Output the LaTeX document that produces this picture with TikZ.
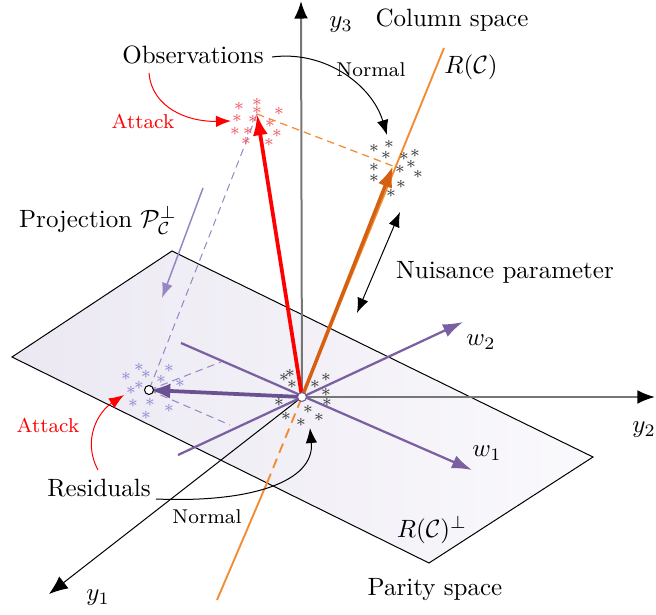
\documentclass[tikz,border=0pt]{standalone}
\usetikzlibrary{arrows.meta}
\definecolor{vio}{RGB}{122,96,160}
\definecolor{viod}{RGB}{106,82,146}
\definecolor{viol}{RGB}{152,134,196}
\definecolor{resc}{RGB}{135,135,212}
\definecolor{orl}{RGB}{242,140,50}
\definecolor{ord}{RGB}{214,96,18}
\definecolor{axg}{RGB}{118,118,118}
\definecolor{plA}{RGB}{235,232,242}
\definecolor{plB}{RGB}{250,249,252}
\definecolor{redst}{RGB}{240,80,90}
\definecolor{blkst}{RGB}{50,50,50}
\begin{document}
\begin{tikzpicture}[x=0.4pt,y=-0.4pt,
  lbl/.style={inner sep=0pt},
  small/.style={inner sep=0pt,font=\footnotesize},
  rstar/.style={inner sep=0pt,font=\scriptsize,text=redst},
  bstar/.style={inner sep=0pt,font=\scriptsize,text=blkst},
  pstar/.style={inner sep=0pt,font=\scriptsize,text=resc},
  thinax/.style={line width=0.4pt,-{Latex[length=7.5pt,width=6pt]}},
  grayax/.style={draw=axg,line width=0.8pt,-{Latex[length=7pt,width=5.5pt,color=black,fill=black]}},
  wline/.style={draw=vio,line width=0.9pt,-{Latex[length=8pt,width=5.5pt]}},
  pdash/.style={draw=viol,line width=0.4pt,dash pattern=on 3pt off 2pt},
  bigarrow/.style={line width=1.5pt,-{Latex[length=8.5pt,width=6pt]}},
  curvearrow/.style={line width=0.4pt,-{Latex[length=6pt,width=4.6pt]}},
  dot/.style={circle,draw,fill=white,inner sep=0pt,minimum size=3.6pt,line width=0.4pt}
]
\useasboundingbox (0,0) rectangle (656,615);

% key points
\coordinate (O) at (302,397);
\coordinate (Y3) at (301,1);
\coordinate (Y2) at (655,397);
\coordinate (Y1) at (49,594);
\coordinate (RB) at (217,600);
\coordinate (RT) at (444,48);
\coordinate (RX) at (267,483);
\coordinate (RED) at (257,114);
\coordinate (ORT) at (393,166);
\coordinate (RES) at (149,390);
\coordinate (W1a) at (181,343);
\coordinate (W1) at (472,470);
\coordinate (W2a) at (178,455);
\coordinate (W2) at (463,322);
\coordinate (P1) at (221,362);
\coordinate (P2) at (230,425);
\coordinate (PL) at (12,357);
\coordinate (PT) at (172,251);
\coordinate (PR) at (593,457);
\coordinate (PB) at (429,563);

% plane
\shade[left color=plA,right color=plB] (PL) -- (PT) -- (PR) -- (PB) -- cycle;
\draw[line width=0.4pt] (PL) -- (PT) -- (PR) -- (PB) -- cycle;

% y1 axis
\draw[thinax] (O) -- (Y1);

% column space line
\draw[orl,line width=0.75pt] (RB) -- (RX);
\draw[orl,line width=0.75pt,dash pattern=on 4pt off 2.5pt] (RX) -- (O);
\draw[orl,line width=0.75pt] (O) -- (RT);

% y3, y2 axes
\draw[grayax] (O) -- (Y3);
\draw[grayax] (O) -- (Y2);

% w axes
\draw[wline] (W1a) -- (W1);
\draw[wline] (W2a) -- (W2);

% projection dashed lines
\draw[pdash] (RED) -- (RES);
\draw[pdash] (RES) -- (P1);
\draw[pdash] (RES) -- (P2);

% main vectors
\draw[bigarrow,color=viod] (O) -- (RES);
\draw[bigarrow,color=red] (O) -- (RED);
\draw[bigarrow,color=ord,line width=1.4pt] (O) -- (ORT);
\draw[orl,line width=0.5pt,dash pattern=on 3pt off 2pt] (RED) -- (ORT);

% star clusters
\foreach \p [count=\i] in {(239,106),(257,102),(257,110),(279,111),(237,118),(253,119),(270,123),(235,131),(248,131),(277,133),(246,141),(269,142)}
  \node[rstar] (rs\i) at \p {$\ast$};
\foreach \p [count=\i] in {(374,148),(389,144),(386,155),(404,156),(415,153),(374,167),(411,164),(400,169),(418,174),(374,178),(401,184),(391,193)}
  \node[bstar] (bs\i) at \p {$\ast$};
\foreach \p [count=\i] in {(290,373),(284,377),(292,384),(326,377),(315,384),(326,392),(279,402),(327,402),(286,416),(308,409),(301,422),(319,417)}
  \node[bstar] (os\i) at \p {$\ast$};
\foreach \p [count=\i] in {(139,367),(169,368),(126,376),(146,374),(161,379),(139,385),(180,383),(131,390),(150,402),(133,403),(169,408),(146,415)}
  \node[pstar] (ps\i) at \p {$\ast$};

% points
\node[dot,draw=viod] (o) at (O) {};
\node[dot] (res) at (RES) {};

% nuisance double arrow
\coordinate (NA) at (400,212);
\coordinate (NB) at (357,313);
\draw[line width=0.4pt,{Latex[length=6pt,width=4.6pt]}-{Latex[length=6pt,width=4.6pt]}] (NB) -- (NA);

% projection arrow
\coordinate (PA) at (203,188);
\coordinate (PZ) at (162,298);
\draw[viol,line width=0.6pt,-{Latex[length=6pt,width=4.4pt]}] (PA) -- (PZ);

% labels
\node[lbl] (obs) at (193,55) {Observations};
\node[lbl] (col) at (452,20) {Column space};
\node[lbl] (y3) at (341,25) {$y_3$};
\node[lbl] (rc) at (471,67) {$R(\mathcal{C})$};
\node[small] (norm1) at (371,70) {Normal};
\node[small,text=red] (att1) at (143,121) {Attack};
\node[lbl] (proj) at (98,220) {Projection $\mathcal{P}_{\mathcal{C}}^{\perp}$};
\node[lbl] (nuis) at (505,272) {Nuisance parameter};
\node[lbl] (w2) at (481,342) {$w_2$};
\node[lbl] (w1) at (487,453) {$w_1$};
\node[lbl] (y2) at (644,430) {$y_2$};
\node[small,text=red] (att2) at (48,425) {Attack};
\node[lbl] (resl) at (99,488) {Residuals};
\node[small] (norm2) at (207,517) {Normal};
\node[lbl] (rcp) at (432,530) {$R(\mathcal{C})^{\perp}$};
\node[lbl] (par) at (435,590) {Parity space};
\node[lbl] (y1) at (98,598) {$y_1$};

% curved arrows
\coordinate (c1s) at (272,57);
\coordinate (c1e) at (387,135);
\draw[curvearrow] (c1s) .. controls (325,50) and (372,85) .. (c1e);
\coordinate (c2s) at (149,73);
\coordinate (c2e) at (231,121);
\draw[curvearrow,red] (c2s) .. controls (152,108) and (188,122) .. (c2e);
\coordinate (c3s) at (98,470);
\coordinate (c3e) at (124,395);
\draw[curvearrow,red] (c3s) .. controls (82,440) and (98,412) .. (c3e);
\coordinate (c4s) at (156,499);
\coordinate (c4e) at (310,428);
\draw[curvearrow] (c4s) .. controls (250,503) and (315,482) .. (c4e);
\end{tikzpicture}
\end{document}
